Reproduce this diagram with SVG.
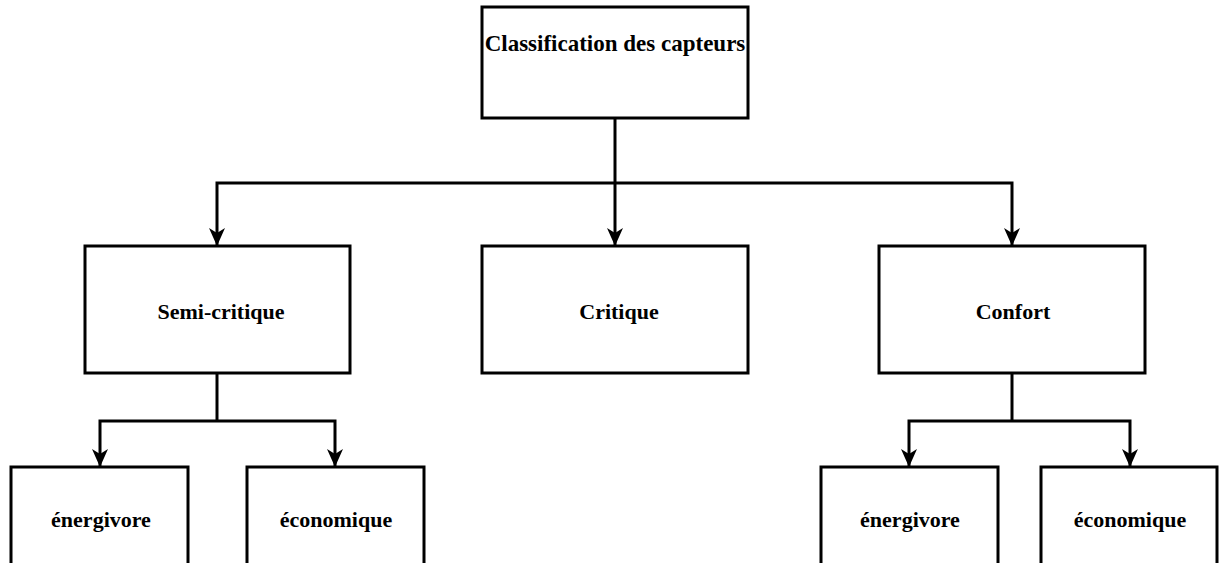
<svg xmlns="http://www.w3.org/2000/svg" width="1219" height="563" viewBox="0 0 1219 563">
<style>
.box{fill:#fff;stroke:#000;stroke-width:3}
.lbl{font-family:"Liberation Serif","Times New Roman",serif;font-weight:bold;font-size:22px;fill:#000;text-anchor:middle}
.edge{fill:none;stroke:#000;stroke-width:3}
</style>
<defs>
<marker id="arr" markerUnits="userSpaceOnUse" markerWidth="18" markerHeight="18" viewBox="0 0 18 18" refX="17" refY="9" orient="auto">
<path d="M0,1 L18,9 L0,17 L5,9 Z" fill="#000"/>
</marker>
</defs>
<g id="connectors">
<path class="edge" d="M615,118 V183"/>
<path class="edge" d="M615,183 H217 V245" marker-end="url(#arr)"/>
<path class="edge" d="M615,183 V245" marker-end="url(#arr)"/>
<path class="edge" d="M615,183 H1012 V245" marker-end="url(#arr)"/>
<path class="edge" d="M217,373 V421"/>
<path class="edge" d="M217,421 H100 V466" marker-end="url(#arr)"/>
<path class="edge" d="M217,421 H335 V466" marker-end="url(#arr)"/>
<path class="edge" d="M1012,373 V421"/>
<path class="edge" d="M1012,421 H909 V466" marker-end="url(#arr)"/>
<path class="edge" d="M1012,421 H1130 V466" marker-end="url(#arr)"/>
</g>
<g id="root">
<rect class="box" x="482" y="7" width="266" height="111"/>
<text class="lbl" x="615" y="51" style="font-size:23px">Classification des capteurs</text>
</g>
<g id="semi">
<rect class="box" x="85" y="246" width="265" height="127"/>
<text class="lbl" x="221" y="319">Semi-critique</text>
</g>
<g id="critique">
<rect class="box" x="482" y="246" width="266" height="127"/>
<text class="lbl" x="619" y="319">Critique</text>
</g>
<g id="confort">
<rect class="box" x="879" y="246" width="266" height="127"/>
<text class="lbl" x="1013" y="319">Confort</text>
</g>
<g id="semi-energivore">
<rect class="box" x="11" y="467" width="177" height="127"/>
<text class="lbl" x="101" y="527">énergivore</text>
</g>
<g id="semi-economique">
<rect class="box" x="247" y="467" width="177" height="127"/>
<text class="lbl" x="336" y="527">économique</text>
</g>
<g id="confort-energivore">
<rect class="box" x="821" y="467" width="177" height="127"/>
<text class="lbl" x="910" y="527">énergivore</text>
</g>
<g id="confort-economique">
<rect class="box" x="1041" y="467" width="176" height="127"/>
<text class="lbl" x="1130" y="527">économique</text>
</g>
</svg>
